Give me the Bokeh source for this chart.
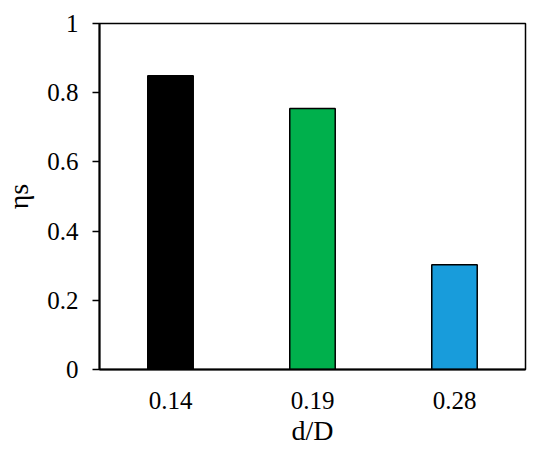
from bokeh.plotting import figure
from bokeh.models import ColumnDataSource, Range1d, FixedTicker
from bokeh.embed import file_html
from bokeh.resources import INLINE

categories = ["0.14", "0.19", "0.28"]
values = [0.849, 0.754, 0.303]
colors = ["#000000", "#00B04C", "#189CDB"]
y_ticks = [0, 0.2, 0.4, 0.6, 0.8, 1]

src = ColumnDataSource(dict(x=categories, top=values, color=colors))

FONT = "Liberation Serif"

p = figure(x_range=categories, y_range=Range1d(0, 1), width=534, height=448,
           output_backend="svg", toolbar_location=None,
           min_border_left=88, min_border_right=9, min_border_top=23, min_border_bottom=75)

p.vbar(x="x", top="top", width=0.32, bottom=0, source=src,
       fill_color="color", line_color="black", line_width=1.5)

p.xgrid.visible = False
p.ygrid.visible = False
p.outline_line_color = "black"
p.outline_line_width = 1.5
p.x_range.range_padding = 0

p.yaxis.ticker = FixedTicker(ticks=y_ticks)
p.yaxis.major_label_overrides = {0: "0", 1: "1"}
p.yaxis.minor_tick_line_color = None
p.yaxis.major_tick_in = 0
p.yaxis.major_tick_out = 7
p.yaxis.major_tick_line_width = 1.5
p.yaxis.axis_line_width = 2
p.yaxis.major_label_standoff = 14
p.yaxis.axis_label = "ηs"
p.yaxis.axis_label_standoff = 10

p.xaxis.major_tick_line_color = None
p.xaxis.minor_tick_line_color = None
p.xaxis.axis_line_width = 2
p.xaxis.major_label_standoff = 16
p.xaxis.axis_label = "d/D"
p.xaxis.axis_label_standoff = 3

for ax in (p.xaxis, p.yaxis):
    ax.major_label_text_font = FONT
    ax.major_label_text_font_size = "25px"
    ax.major_label_text_color = "black"
    ax.axis_label_text_font = FONT
    ax.axis_label_text_font_size = "28px"
    ax.axis_label_text_font_style = "normal"
    ax.axis_label_text_color = "black"
    ax.axis_line_color = "black"
p.xaxis.major_tick_line_color = None

open("out.html", "w").write(file_html(p, INLINE))
